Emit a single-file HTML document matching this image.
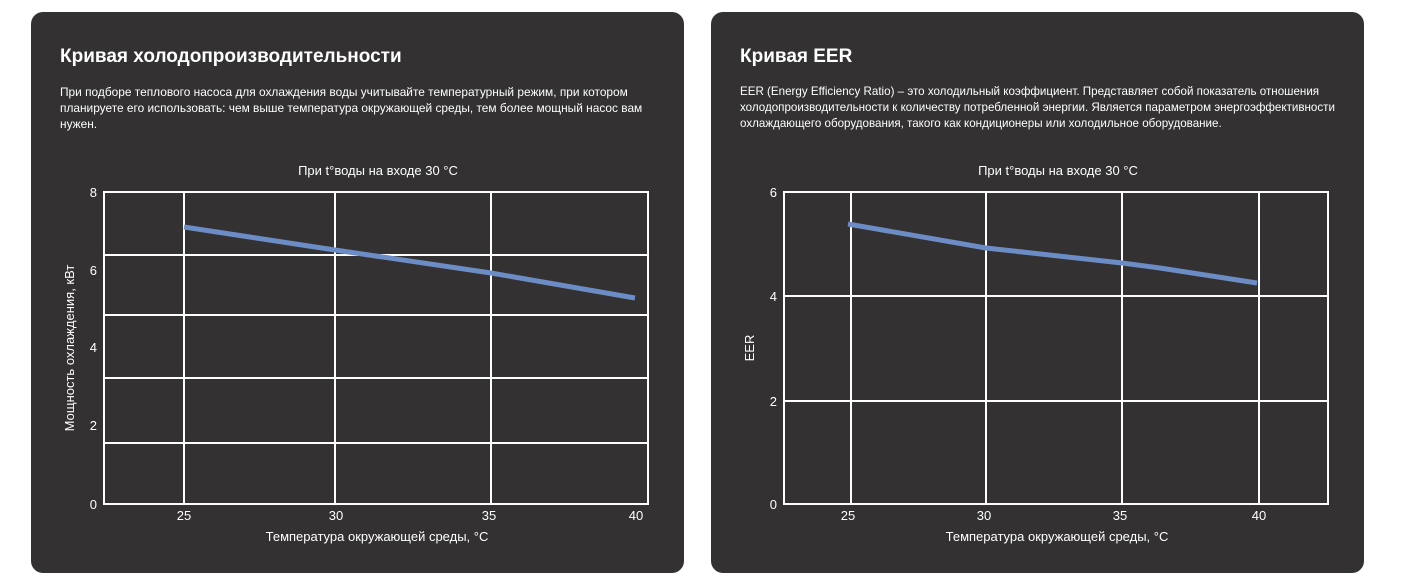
<!DOCTYPE html>
<html><head><meta charset="utf-8"><style>
body{margin:0;width:1403px;height:588px;background:#fff;position:relative;font-family:"Liberation Sans",sans-serif;overflow:hidden}
.card{position:absolute;top:12px;width:653px;height:561px;background:#333132;border-radius:12px}
.t{position:absolute;left:29px;top:34px;color:#fff;font-weight:bold;font-size:19px;white-space:nowrap}
.d{position:absolute;left:29px;top:72px;color:#fff;font-size:11.6px;line-height:16px;white-space:nowrap}
svg{position:absolute;left:0;top:0}
</style></head><body>
<div class="card" style="left:31px">
<div class="t">Кривая холодопроизводительности</div>
<div class="d" style="font-size:11.9px">При подборе теплового насоса для охлаждения воды учитывайте температурный режим, при котором<br>планируете его использовать: чем выше температура окружающей среды, тем более мощный насос вам<br>нужен.</div>
</div>
<div class="card" style="left:711px">
<div class="t">Кривая EER</div>
<div class="d">EER (Energy Efficiency Ratio) – это холодильный коэффициент. Представляет собой показатель отношения<br>холодопроизводительности к количеству потребленной энергии. Является параметром энергоэффективности<br>охлаждающего оборудования, такого как кондиционеры или холодильное оборудование.</div>
</div>
<svg width="1403" height="588" font-family="Liberation Sans, sans-serif" fill="#fff">
<g stroke="#fff" stroke-width="2" fill="none">
<rect x="104" y="192" width="544" height="312"/>
<line x1="184" y1="192" x2="184" y2="504"/><line x1="335" y1="192" x2="335" y2="504"/><line x1="491" y1="192" x2="491" y2="504"/>
<line x1="104" y1="255" x2="648" y2="255"/><line x1="104" y1="315" x2="648" y2="315"/><line x1="104" y1="378" x2="648" y2="378"/><line x1="104" y1="443" x2="648" y2="443"/>
<rect x="784" y="192" width="544" height="312"/>
<line x1="851" y1="192" x2="851" y2="504"/><line x1="986" y1="192" x2="986" y2="504"/><line x1="1122" y1="192" x2="1122" y2="504"/><line x1="1259" y1="192" x2="1259" y2="504"/>
<line x1="784" y1="296" x2="1328" y2="296"/><line x1="784" y1="401" x2="1328" y2="401"/>
</g>
<polyline points="184,227 335,250 491,273 635,298" stroke="#6b8cc4" stroke-width="5" fill="none"/>
<polyline points="848,224 986,248 1122,263 1160,268 1257,283" stroke="#6b8cc4" stroke-width="5" fill="none"/>
<g font-size="13" text-anchor="middle">
<text x="378" y="175">При t°воды на входе 30 °C</text>
<text x="1058" y="175">При t°воды на входе 30 °C</text>
<text x="377" y="541">Температура окружающей среды, °C</text>
<text x="1057" y="541">Температура окружающей среды, °C</text>
<text transform="translate(74,348) rotate(-90)">Мощность охлаждения, кВт</text>
<text transform="translate(754,348) rotate(-90)">EER</text>
<text x="184" y="520">25</text><text x="336" y="520">30</text><text x="489" y="520">35</text><text x="636" y="520">40</text>
<text x="848" y="520">25</text><text x="984" y="520">30</text><text x="1120" y="520">35</text><text x="1259" y="520">40</text>
</g>
<g font-size="13" text-anchor="end">
<text x="97" y="197">8</text><text x="97" y="275">6</text><text x="97" y="352">4</text><text x="97" y="430">2</text><text x="97" y="509">0</text>
<text x="777" y="197">6</text><text x="777" y="301">4</text><text x="777" y="406">2</text><text x="777" y="509">0</text>
</g>
</svg>
</body></html>
